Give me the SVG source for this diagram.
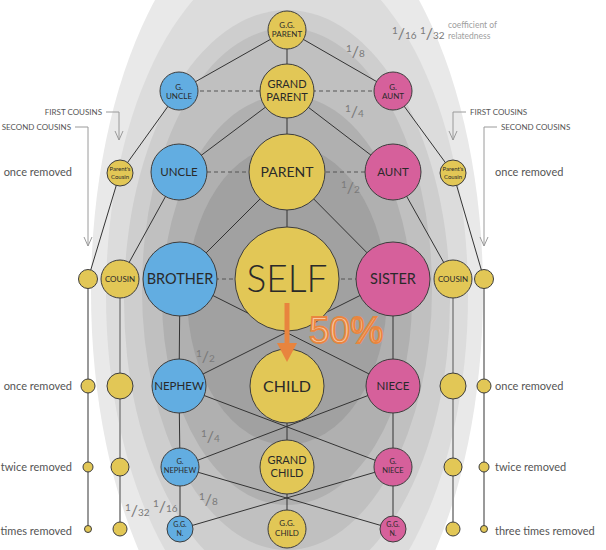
<svg xmlns="http://www.w3.org/2000/svg" width="606" height="550" viewBox="0 0 606 550">
<style>
.n{stroke:#3d3d3d;stroke-width:1}
.y{fill:#e2c756}.b{fill:#62ade1}.p{fill:#d6609b}
.e{stroke:#333;stroke-width:1;fill:none}
.d{stroke:#555;stroke-width:1;stroke-dasharray:4 3;fill:none}
.g{stroke:#999;stroke-width:2;fill:none}
.a{stroke:#9a9a9a;stroke-width:1;fill:none}
.t{font-family:Lato,"Noto Sans",sans-serif;fill:#2a2a2a;text-anchor:middle}
.l{font-family:Lato,"Noto Sans",sans-serif;fill:#555;font-size:11px}
.c{font-family:Lato,"Noto Sans",sans-serif;fill:#555;font-size:8px}
.f{font-family:Lato,"Noto Sans",sans-serif;fill:#7a7a7a;font-size:10px}
.f .s{font-size:16px}
</style>
<g id="background">
<ellipse cx="287" cy="292" rx="196" ry="395" fill="#e9e9e9"/>
<ellipse cx="287" cy="295" rx="181" ry="345" fill="#dcdcdc"/>
<ellipse cx="287" cy="300" rx="163" ry="290" fill="#cecece"/>
<ellipse cx="287" cy="289" rx="145" ry="261" fill="#c0c0c0"/>
<ellipse cx="287" cy="300" rx="125" ry="205" fill="#b0b0b0"/>
<ellipse cx="287" cy="295" rx="100" ry="150" fill="#a1a1a1"/>
</g>
<g id="connectors">
<g class="e">
<line x1="287" y1="30" x2="287" y2="91"/>
<line x1="287" y1="30" x2="179" y2="91"/>
<line x1="287" y1="30" x2="393" y2="91"/>
<polyline points="179,91 120,173 88,279"/>
<polyline points="393,91 453,173 484,279"/>
<line x1="287" y1="91" x2="179" y2="172"/>
<line x1="287" y1="91" x2="287" y2="172"/>
<line x1="287" y1="91" x2="393" y2="172"/>
<line x1="179" y1="172" x2="120" y2="279"/>
<line x1="393" y1="172" x2="453" y2="279"/>
<line x1="287" y1="172" x2="180" y2="279"/>
<line x1="287" y1="172" x2="287" y2="279"/>
<line x1="287" y1="172" x2="393" y2="279"/>
<line x1="180" y1="279" x2="179" y2="386"/>
<line x1="180" y1="279" x2="393" y2="386"/>
<line x1="393" y1="279" x2="393" y2="386"/>
<line x1="393" y1="279" x2="179" y2="386"/>
<line x1="287" y1="279" x2="287" y2="386"/>
<line x1="179" y1="386" x2="180" y2="467"/>
<line x1="179" y1="386" x2="393" y2="467"/>
<line x1="393" y1="386" x2="393" y2="467"/>
<line x1="393" y1="386" x2="180" y2="467"/>
<line x1="287" y1="386" x2="287" y2="467"/>
<line x1="180" y1="467" x2="180" y2="529"/>
<line x1="180" y1="467" x2="393" y2="529"/>
<line x1="393" y1="467" x2="393" y2="529"/>
<line x1="393" y1="467" x2="180" y2="529"/>
<line x1="287" y1="467" x2="287" y2="529"/>
</g>
<g class="d">
<line x1="179" y1="91" x2="393" y2="91"/>
<line x1="179" y1="172" x2="393" y2="172"/>
<line x1="180" y1="279" x2="393" y2="279"/>
</g>
<g class="g">
<line x1="120" y1="279" x2="120" y2="529"/>
<line x1="88" y1="279" x2="88" y2="529"/>
<line x1="453" y1="279" x2="453" y2="529"/>
<line x1="484" y1="279" x2="484" y2="529"/>
</g>
<g class="a">
<polyline points="106,112 119,112 119,140"/>
<polyline points="115,131 119,140 123,131"/>
<polyline points="75,127 88,127 88,246"/>
<polyline points="84,237 88,246 92,237"/>
<polyline points="466,112 453,112 453,140"/>
<polyline points="449,131 453,140 457,131"/>
<polyline points="497,127 484,127 484,246"/>
<polyline points="480,237 484,246 488,237"/>
</g>
</g>
<g id="gg-parent"><circle class="n y" cx="287" cy="30" r="19"/><text class="t" font-size="8"><tspan x="287" y="28">G.G.</tspan><tspan x="287" y="37">PARENT</tspan></text></g>
<g id="grand-parent"><circle class="n y" cx="287" cy="91" r="27"/><text class="t" font-size="11"><tspan x="287" y="87.5">GRAND</tspan><tspan x="287" y="101">PARENT</tspan></text></g>
<g id="g-uncle"><circle class="n b" cx="179" cy="91" r="19"/><text class="t" font-size="8"><tspan x="179" y="90">G.</tspan><tspan x="179" y="99">UNCLE</tspan></text></g>
<g id="g-aunt"><circle class="n p" cx="393" cy="91" r="19"/><text class="t" font-size="8"><tspan x="393" y="90">G.</tspan><tspan x="393" y="99">AUNT</tspan></text></g>
<g id="uncle"><circle class="n b" cx="179" cy="172" r="28"/><text class="t" font-size="11.5" x="179" y="176">UNCLE</text></g>
<g id="parent"><circle class="n y" cx="287" cy="172" r="38"/><text class="t" font-size="14" x="287" y="177">PARENT</text></g>
<g id="aunt"><circle class="n p" cx="393" cy="172" r="28"/><text class="t" font-size="11.5" x="393" y="176">AUNT</text></g>
<g id="parents-cousin-l"><circle class="n y" cx="120" cy="173" r="13"/><text class="t" font-size="6"><tspan x="120" y="171">Parent's</tspan><tspan x="120" y="179">Cousin</tspan></text></g>
<g id="parents-cousin-r"><circle class="n y" cx="453" cy="173" r="13"/><text class="t" font-size="6"><tspan x="453" y="171">Parent's</tspan><tspan x="453" y="179">Cousin</tspan></text></g>
<g id="self"><circle class="n y" cx="287" cy="279" r="52"/><text class="t" font-size="37" font-weight="300" x="287" y="292" fill="#111">SELF</text></g>
<g id="brother"><circle class="n b" cx="180" cy="279" r="37"/><text class="t" font-size="14.5" x="180" y="284">BROTHER</text></g>
<g id="sister"><circle class="n p" cx="393" cy="279" r="37"/><text class="t" font-size="14.5" x="393" y="284">SISTER</text></g>
<g id="cousin-l"><circle class="n y" cx="120" cy="279" r="19"/><text class="t" font-size="8" x="120" y="282">COUSIN</text></g>
<g id="cousin-r"><circle class="n y" cx="453" cy="279" r="19"/><text class="t" font-size="8" x="453" y="282">COUSIN</text></g>
<g id="second-cousin-l"><circle class="n y" cx="88" cy="279" r="9.5"/></g>
<g id="second-cousin-r"><circle class="n y" cx="484" cy="279" r="9.5"/></g>
<g id="child"><circle class="n y" cx="287" cy="386" r="37"/><text class="t" font-size="16" x="287" y="392">CHILD</text></g>
<g id="nephew"><circle class="n b" cx="179" cy="386" r="27"/><text class="t" font-size="11.5" x="179" y="390">NEPHEW</text></g>
<g id="niece"><circle class="n p" cx="393" cy="386" r="27"/><text class="t" font-size="11.5" x="393" y="390">NIECE</text></g>
<g id="g-nephew"><circle class="n b" cx="180" cy="467" r="19"/><text class="t" font-size="7.5"><tspan x="180" y="464">G.</tspan><tspan x="180" y="473">NEPHEW</tspan></text></g>
<g id="grandchild"><circle class="n y" cx="287" cy="467" r="27"/><text class="t" font-size="11"><tspan x="287" y="463.5">GRAND</tspan><tspan x="287" y="477">CHILD</tspan></text></g>
<g id="g-niece"><circle class="n p" cx="393" cy="467" r="19"/><text class="t" font-size="7.5"><tspan x="393" y="464">G.</tspan><tspan x="393" y="473">NIECE</tspan></text></g>
<g id="ggn-l"><circle class="n b" cx="180" cy="529" r="13"/><text class="t" font-size="7"><tspan x="180" y="527">G.G.</tspan><tspan x="180" y="536">N.</tspan></text></g>
<g id="gg-child"><circle class="n y" cx="287" cy="529" r="19"/><text class="t" font-size="8"><tspan x="287" y="526">G.G.</tspan><tspan x="287" y="536">CHILD</tspan></text></g>
<g id="ggn-r"><circle class="n p" cx="393" cy="529" r="13"/><text class="t" font-size="7"><tspan x="393" y="527">G.G.</tspan><tspan x="393" y="536">N.</tspan></text></g>
<g id="fc-removed-l"><circle class="n y" cx="120" cy="386" r="13"/><circle class="n y" cx="120" cy="467" r="9"/><circle class="n y" cx="120" cy="529" r="7"/></g>
<g id="sc-removed-l"><circle class="n y" cx="88" cy="386" r="7"/><circle class="n y" cx="88" cy="467" r="5"/><circle class="n y" cx="88" cy="529" r="3.5"/></g>
<g id="fc-removed-r"><circle class="n y" cx="453" cy="386" r="13"/><circle class="n y" cx="453" cy="467" r="9"/><circle class="n y" cx="453" cy="529" r="7"/></g>
<g id="sc-removed-r"><circle class="n y" cx="484" cy="386" r="7"/><circle class="n y" cx="484" cy="467" r="5"/><circle class="n y" cx="484" cy="529" r="3.5"/></g>
<g id="labels">
<text class="c" x="102" y="115" text-anchor="end">FIRST COUSINS</text>
<text class="c" x="71" y="130" text-anchor="end">SECOND COUSINS</text>
<text class="c" x="470" y="115">FIRST COUSINS</text>
<text class="c" x="501" y="130">SECOND COUSINS</text>
<text class="l" x="72" y="176" text-anchor="end">once removed</text>
<text class="l" x="72" y="390" text-anchor="end">once removed</text>
<text class="l" x="72" y="471" text-anchor="end">twice removed</text>
<text class="l" x="72" y="535" text-anchor="end">times removed</text>
<text class="l" x="495" y="176">once removed</text>
<text class="l" x="495" y="390">once removed</text>
<text class="l" x="495" y="471">twice removed</text>
<text class="l" x="495" y="535">three times removed</text>
<text font-family="Lato,'Noto Sans',sans-serif" font-size="8.5" fill="#a0a0a0"><tspan x="448" y="28">coefficient of</tspan><tspan x="448" y="38.5">relatedness</tspan></text>
</g>
<g id="fractions">
<text class="f" x="392" y="39"><tspan dy="-5">1</tspan><tspan class="s" dy="5">/</tspan><tspan>16</tspan></text>
<text class="f" x="420" y="39"><tspan dy="-5">1</tspan><tspan class="s" dy="5">/</tspan><tspan>32</tspan></text>
<text class="f" x="346" y="57"><tspan dy="-5">1</tspan><tspan class="s" dy="5">/</tspan><tspan>8</tspan></text>
<text class="f" x="345" y="117"><tspan dy="-5">1</tspan><tspan class="s" dy="5">/</tspan><tspan>4</tspan></text>
<text class="f" x="341" y="193"><tspan dy="-5">1</tspan><tspan class="s" dy="5">/</tspan><tspan>2</tspan></text>
<text class="f" x="196" y="362"><tspan dy="-5">1</tspan><tspan class="s" dy="5">/</tspan><tspan>2</tspan></text>
<text class="f" x="201" y="442"><tspan dy="-5">1</tspan><tspan class="s" dy="5">/</tspan><tspan>4</tspan></text>
<text class="f" x="199" y="505"><tspan dy="-5">1</tspan><tspan class="s" dy="5">/</tspan><tspan>8</tspan></text>
<text class="f" x="153" y="512"><tspan dy="-5">1</tspan><tspan class="s" dy="5">/</tspan><tspan>16</tspan></text>
<text class="f" x="125" y="516"><tspan dy="-5">1</tspan><tspan class="s" dy="5">/</tspan><tspan>32</tspan></text>
</g>
<g id="highlight">
<line x1="287" y1="303" x2="287" y2="345" stroke="#e8843e" stroke-width="5"/>
<polygon points="277,343 297,343 287,362" fill="#e8843e"/>
<text x="309" y="343" font-family="'Liberation Sans',Arial,sans-serif" font-size="37" fill="#f8c8a2" stroke="#e9863f" stroke-width="1.8">50%</text>
</g>
</svg>
